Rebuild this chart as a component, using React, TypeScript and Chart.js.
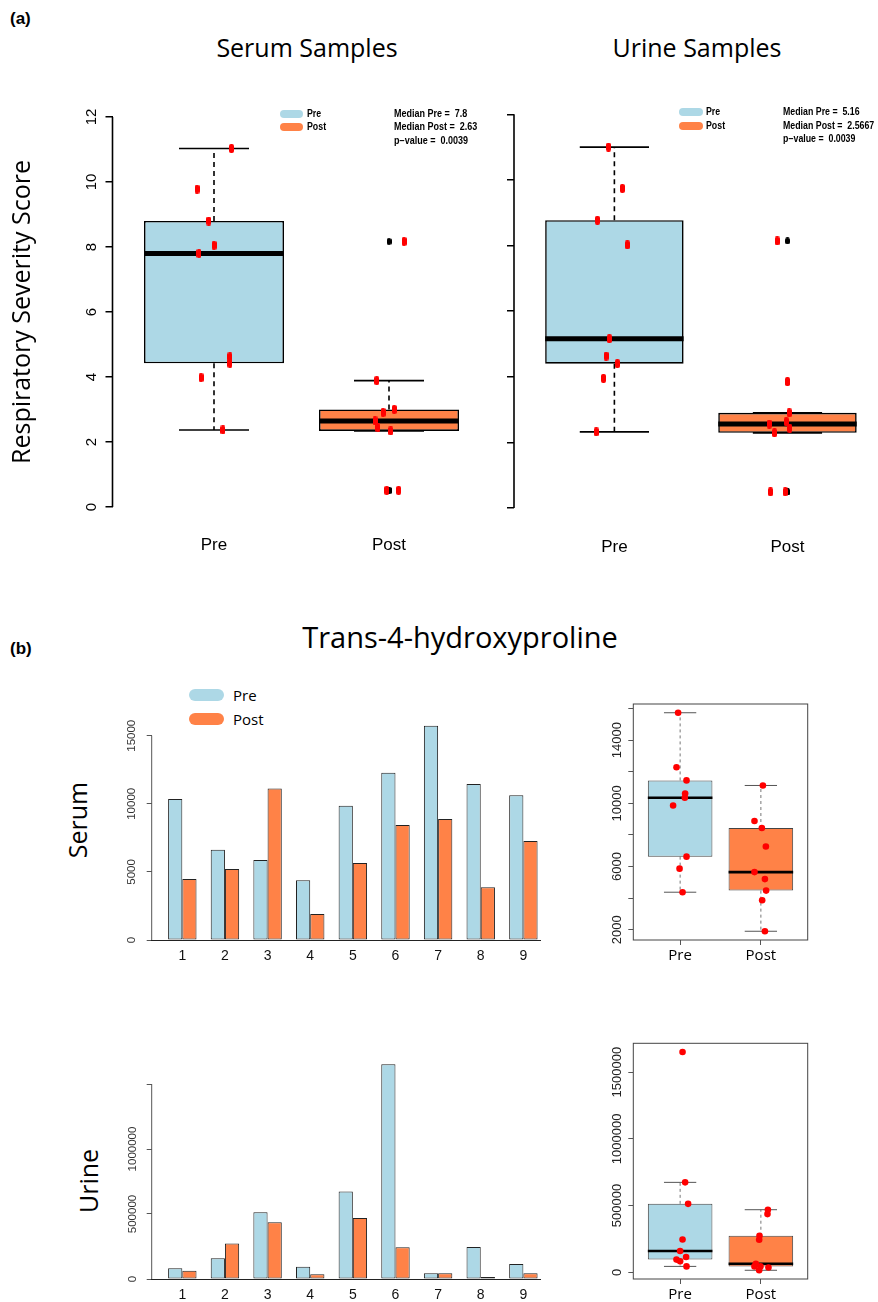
import React, { useEffect, useRef } from "react";
import { Chart, registerables } from "chart.js";
Chart.register(...registerables);

const BLUE = "#ADD8E6";
const ORANGE = "#FF8247";
const RED = "#FF0000";

const GROUP_LABELS = ["Pre", "Post"];
const GROUP_POS = [1, 2];

// ---------- (a) Respiratory severity score ----------
const A_Y_TICKS = [0, 2, 4, 6, 8, 10, 12];

const A_SERUM_PRE = [11.03, 9.78, 8.8, 8.05, 7.8, 4.62, 4.42, 3.98, 2.37];
const A_SERUM_PRE_JIT = [0.1, -0.097, -0.03, 0, -0.086, 0.091, 0.091, -0.074, 0.051];
const A_SERUM_POST = [8.17, 0.51, 0.51, 3.89, 2.91, 3.0, 2.65, 2.44, 2.34];
const A_SERUM_POST_JIT = [0.086, -0.013, 0.055, -0.07, -0.034, 0.03, -0.08, -0.063, 0.01];

const A_URINE_PRE = [11.0, 9.74, 8.77, 8.02, 5.16, 4.63, 4.4, 3.95, 2.32];
const A_URINE_PRE_JIT = [-0.034, 0.046, -0.098, 0.075, -0.029, -0.048, 0.017, -0.063, -0.105];
const A_URINE_POST = [8.14, 3.85, 0.49, 0.49, 2.9, 2.63, 2.56, 2.43, 2.29];
const A_URINE_POST_JIT = [-0.059, 0, -0.098, -0.013, 0.01, -0.007, -0.105, 0.013, -0.075];

const A_SERUM_STATS = ["Median Pre =  7.8", "Median Post =  2.63", "p\u2212value =  0.0039"];
const A_URINE_STATS = ["Median Pre =  5.16", "Median Post =  2.5667", "p\u2212value =  0.0039"];

// ---------- (b) Trans-4-hydroxyproline ----------
const PATIENTS = [1, 2, 3, 4, 5, 6, 7, 8, 9];
const SERUM_PRE = [10350, 6630, 5870, 4380, 9860, 12280, 15730, 11450, 10620];
const SERUM_POST = [4480, 5210, 11130, 1910, 5650, 8440, 8880, 3870, 7270];
const URINE_PRE = [82000, 159000, 513000, 95000, 674000, 1651000, 44000, 246000, 115000];
const URINE_POST = [64000, 274000, 436000, 36000, 469000, 244000, 44000, 15000, 44000];

const SERUM_PRE_JIT = [0.058, 0.079, -0.007, 0.03, -0.087, -0.045, -0.025, 0.079, 0.062];
const SERUM_POST_JIT = [0.065, 0.05, 0.025, 0.05, -0.079, 0.012, -0.079, 0.016, 0.062];
const URINE_PRE_JIT = [0, 0, 0.099, -0.045, 0.062, 0.03, 0.079, 0.03, 0.074];
const URINE_POST_JIT = [-0.062, -0.017, 0.082, 0.094, 0.087, -0.021, -0.079, -0.021, -0.005];

const SERUM_BAR_TICKS = [0, 5000, 10000, 15000];
const SERUM_BAR_LABELS = [0, 5000, 10000, 15000];
const URINE_BAR_TICKS = [0, 500000, 1000000, 1500000];
const URINE_BAR_LABELS = [0, 500000, 1000000];
const SERUM_BOX_TICKS = [2000, 4000, 6000, 8000, 10000, 12000, 14000, 16000];
const SERUM_BOX_LABELS = [2000, 6000, 10000, 14000];
const URINE_BOX_TICKS = [0, 500000, 1000000, 1500000];
const URINE_BOX_LABELS = [0, 500000, 1000000, 1500000];

type Stats = { low: number; q1: number; med: number; q3: number; high: number; out: number[] };

function boxStats(values: number[]): Stats {
  const s = [...values].sort((a, b) => a - b);
  const n = s.length;
  const n4 = Math.floor((n + 3) / 2) / 2;
  const d = [1, n4, (n + 1) / 2, n + 1 - n4, n].map(
    (p) => 0.5 * (s[Math.floor(p) - 1] + s[Math.ceil(p) - 1])
  );
  const iqr = d[3] - d[1];
  const lo = d[1] - 1.5 * iqr;
  const hi = d[3] + 1.5 * iqr;
  const inside = s.filter((v) => v >= lo && v <= hi);
  return {
    low: inside[0],
    q1: d[1],
    med: d[2],
    q3: d[3],
    high: inside[inside.length - 1],
    out: s.filter((v) => v < lo || v > hi),
  };
}

function markImage(w: number, h: number, r: number, color: string) {
  const c = document.createElement("canvas");
  c.width = w;
  c.height = h;
  const g = c.getContext("2d")!;
  g.fillStyle = color;
  g.beginPath();
  (g as any).roundRect(0, 0, w, h, r);
  g.fill();
  return c;
}

function line(ctx: CanvasRenderingContext2D, x1: number, y1: number, x2: number, y2: number) {
  ctx.beginPath();
  ctx.moveTo(x1, y1);
  ctx.lineTo(x2, y2);
  ctx.stroke();
}

function makeBoxConfig(o: any) {
  const stats: Stats[] = o.groups.map((g: number[]) => boxStats(g));
  const all = o.groups.flat();
  let yMin = o.yMin;
  let yMax = o.yMax;
  if (yMin === undefined) {
    const lo = Math.min(...all);
    const hi = Math.max(...all);
    yMin = lo - 0.04 * (hi - lo);
    yMax = hi + 0.04 * (hi - lo);
  }
  const pts = o.groups.flatMap((g: number[], gi: number) =>
    g.map((v, i) => ({ x: GROUP_POS[gi] + o.jitter[gi][i], y: v }))
  );
  const outs = stats.flatMap((s, gi) => s.out.map((v) => ({ x: GROUP_POS[gi], y: v })));
  const datasets: any[] = [
    {
      type: "scatter",
      data: pts,
      pointStyle: o.pointStyle,
      pointRadius: o.pointRadius,
      backgroundColor: RED,
      borderWidth: 0,
    },
  ];
  if (o.outlierStyle) {
    datasets.push({
      type: "scatter",
      data: outs,
      pointStyle: o.outlierStyle,
      pointRadius: 3,
      backgroundColor: "#000",
      borderWidth: 0,
    });
  }
  datasets.push({
    type: "bar",
    data: stats.map((s, i) => ({ x: GROUP_POS[i], y: [s.q1, s.q3] })),
    backgroundColor: o.fills,
    borderColor: o.boxBorder,
    borderWidth: o.boxBorderWidth,
    borderSkipped: false,
    categoryPercentage: 1,
    barPercentage: 0.8,
  });
  const boxIndex = datasets.length - 1;

  const plugin = {
    id: "rbox",
    beforeDatasetsDraw(chart: any) {
      const { ctx } = chart;
      const xs = chart.scales.x;
      const ys = chart.scales.y;
      ctx.save();
      stats.forEach((s, i) => {
        const g = GROUP_POS[i];
        const px = xs.getPixelForValue(g);
        ctx.strokeStyle = o.whiskerColor;
        ctx.lineWidth = o.whiskerWidth;
        ctx.setLineDash(o.whiskerDash);
        line(ctx, px, ys.getPixelForValue(s.q3), px, ys.getPixelForValue(s.high));
        line(ctx, px, ys.getPixelForValue(s.q1), px, ys.getPixelForValue(s.low));
        ctx.setLineDash([]);
        ctx.strokeStyle = o.capColor;
        ctx.lineWidth = o.capWidth;
        const a = xs.getPixelForValue(g - 0.2);
        const b = xs.getPixelForValue(g + 0.2);
        line(ctx, a, ys.getPixelForValue(s.high), b, ys.getPixelForValue(s.high));
        line(ctx, a, ys.getPixelForValue(s.low), b, ys.getPixelForValue(s.low));
      });
      ctx.restore();
    },
    afterDatasetDraw(chart: any, args: any) {
      if (args.index !== boxIndex) return;
      const { ctx } = chart;
      const xs = chart.scales.x;
      const ys = chart.scales.y;
      ctx.save();
      ctx.strokeStyle = "#000";
      ctx.lineWidth = o.medianWidth;
      stats.forEach((s, i) => {
        const g = GROUP_POS[i];
        const py = ys.getPixelForValue(s.med);
        line(ctx, xs.getPixelForValue(g - 0.4), py, xs.getPixelForValue(g + 0.4), py);
      });
      ctx.restore();
    },
    afterDraw(chart: any) {
      const { ctx, chartArea } = chart;
      const ys = chart.scales.y;
      ctx.save();
      if (o.frame) {
        ctx.strokeStyle = o.frameColor;
        ctx.lineWidth = 1;
        ctx.strokeRect(chartArea.left, chartArea.top, chartArea.right - chartArea.left, chartArea.bottom - chartArea.top);
      } else {
        ctx.strokeStyle = o.axisColor;
        ctx.lineWidth = o.axisWidth;
        line(
          ctx,
          chartArea.left,
          ys.getPixelForValue(o.yTicks[0]),
          chartArea.left,
          ys.getPixelForValue(o.yTicks[o.yTicks.length - 1])
        );
      }
      ctx.restore();
    },
  };

  return {
    type: "bar",
    data: { datasets },
    options: {
      responsive: false,
      animation: false,
      events: [],
      layout: { padding: o.padding },
      plugins: { legend: { display: false }, tooltip: { enabled: false } },
      scales: {
        x: {
          type: "linear",
          min: o.xMin,
          max: o.xMax,
          offset: false,
          afterBuildTicks: (s: any) => {
            s.ticks = GROUP_POS.map((v) => ({ value: v }));
          },
          afterFit: (s: any) => {
            s.height = o.xAxisH;
          },
          ticks: {
            callback: (_v: any, i: number) => GROUP_LABELS[i],
            font: o.xFont,
            color: "#000",
            padding: o.xPad,
            autoSkip: false,
            maxRotation: 0,
            minRotation: 0,
          },
          grid: {
            offset: false,
            drawOnChartArea: false,
            display: o.xTickLen > 0,
            drawTicks: o.xTickLen > 0,
            tickLength: o.xTickLen,
            color: o.tickColor,
            lineWidth: o.tickWidth,
          },
          border: { display: false },
        },
        y: {
          type: "linear",
          min: yMin,
          max: yMax,
          afterBuildTicks: (s: any) => {
            s.ticks = o.yTicks.map((v: number) => ({ value: v }));
          },
          afterFit: (s: any) => {
            s.width = o.yAxisW;
          },
          ticks: {
            display: o.yLabels.length > 0,
            callback: (v: number) => (o.yLabels.includes(v) ? String(v) : ""),
            font: o.yFont,
            color: o.yTickColor || "#000",
            padding: o.yPad,
            autoSkip: false,
            minRotation: 90,
            maxRotation: 90,
            crossAlign: "center",
          },
          grid: {
            drawOnChartArea: false,
            drawTicks: true,
            tickLength: o.yTickLen,
            color: o.tickColor,
            lineWidth: o.tickWidth,
          },
          border: { display: false },
          title: o.yTitle || { display: false },
        },
      },
    },
    plugins: [plugin],
  };
}

function makeBarConfig(o: any) {
  const plugin = {
    id: "raxis",
    afterDraw(chart: any) {
      const { ctx, chartArea } = chart;
      const ys = chart.scales.y;
      ctx.save();
      ctx.strokeStyle = "#555";
      ctx.lineWidth = 1;
      line(
        ctx,
        chartArea.left,
        ys.getPixelForValue(o.yTicks[0]),
        chartArea.left,
        ys.getPixelForValue(o.yTicks[o.yTicks.length - 1])
      );
      ctx.restore();
    },
  };
  const common = {
    borderColor: "#222",
    borderWidth: 1,
    borderSkipped: false,
    categoryPercentage: 2 / 3,
    barPercentage: 1,
  };
  return {
    type: "bar",
    data: {
      datasets: [
        { label: "Pre", data: PATIENTS.map((p, i) => ({ x: p, y: o.pre[i] })), backgroundColor: BLUE, ...common },
        { label: "Post", data: PATIENTS.map((p, i) => ({ x: p, y: o.post[i] })), backgroundColor: ORANGE, ...common },
      ],
    },
    options: {
      responsive: false,
      animation: false,
      events: [],
      layout: { padding: o.padding },
      plugins: { legend: { display: false }, tooltip: { enabled: false } },
      scales: {
        x: {
          type: "linear",
          min: o.xMin,
          max: o.xMax,
          offset: false,
          afterBuildTicks: (s: any) => {
            s.ticks = PATIENTS.map((v) => ({ value: v }));
          },
          afterFit: (s: any) => {
            s.height = o.xAxisH;
          },
          ticks: {
            callback: (v: number) => String(v),
            font: { family: "'Liberation Sans', Arial, sans-serif", size: 14 },
            color: "#111",
            padding: o.xPad,
            autoSkip: false,
            maxRotation: 0,
            minRotation: 0,
          },
          grid: { offset: false, display: false, drawTicks: false },
          border: { display: true, color: "#222", width: 1 },
        },
        y: {
          type: "linear",
          min: 0,
          max: o.yMax,
          afterBuildTicks: (s: any) => {
            s.ticks = o.yTicks.map((v: number) => ({ value: v }));
          },
          afterFit: (s: any) => {
            s.width = o.yAxisW;
          },
          ticks: {
            callback: (v: number) => (o.yLabels.includes(v) ? String(v) : ""),
            font: { family: "'Liberation Sans', Arial, sans-serif", size: 11.5 },
            color: "#333",
            padding: o.yPad,
            autoSkip: false,
            minRotation: 90,
            maxRotation: 90,
            crossAlign: "center",
          },
          grid: { drawOnChartArea: false, drawTicks: true, tickLength: 5, color: "#555", lineWidth: 1 },
          border: { display: false },
        },
      },
    },
    plugins: [plugin],
  };
}

function ChartCanvas(props: { left: number; top: number; width: number; height: number; make: () => any }) {
  const ref = useRef<HTMLCanvasElement>(null);
  useEffect(() => {
    const chart = new Chart(ref.current as HTMLCanvasElement, props.make());
    return () => chart.destroy();
  }, []);
  return (
    <canvas
      ref={ref}
      width={props.width}
      height={props.height}
      style={{ position: "absolute", left: props.left, top: props.top, width: props.width, height: props.height }}
    />
  );
}

const SANS = "'Open Sans', 'Noto Sans', sans-serif";
const ARIAL = "'Liberation Sans', Arial, sans-serif";

function Text(props: {
  x: number;
  y: number;
  text: string;
  font: string;
  align?: "left" | "center";
  rotate?: boolean;
  squeeze?: number;
  color?: string;
}) {
  const style: React.CSSProperties = {
    position: "absolute",
    left: props.x,
    top: props.y,
    font: props.font,
    color: props.color || "#000",
    whiteSpace: "pre",
    lineHeight: 1,
    transformOrigin: props.squeeze ? "left center" : undefined,
    transform: props.rotate
      ? "translate(-50%, -50%) rotate(-90deg)"
      : props.align === "center"
      ? "translate(-50%, -50%)"
      : props.squeeze
      ? `translate(0, -50%) scaleX(${props.squeeze})`
      : "translate(0, -50%)",
  };
  return <div style={style}>{props.text}</div>;
}

function Pill(props: { x: number; y: number; w: number; h: number; color: string }) {
  return (
    <div
      style={{
        position: "absolute",
        left: props.x,
        top: props.y - props.h / 2,
        width: props.w,
        height: props.h,
        borderRadius: props.h / 2,
        background: props.color,
      }}
    />
  );
}

export default function App() {
  const aPoint = () => markImage(5, 9, 2, RED);
  const aOut = () => markImage(5, 7, 2.5, "#000");

  const aCommon = {
    fills: [BLUE, ORANGE],
    boxBorder: "#000",
    boxBorderWidth: 1.6,
    whiskerColor: "#000",
    whiskerWidth: 1.6,
    whiskerDash: [5, 4],
    capColor: "#000",
    capWidth: 1.6,
    medianWidth: 5,
    pointRadius: 4,
    yMin: 0,
    yMax: 12,
    yTicks: A_Y_TICKS,
    yTickLen: 7,
    tickColor: "#000",
    tickWidth: 1.5,
    axisColor: "#000",
    axisWidth: 1.6,
    yFont: { family: ARIAL, size: 15 },
    xFont: { family: ARIAL, size: 17 },
    xTickLen: 0,
    frame: false,
  };

  const bCommon = {
    fills: [BLUE, ORANGE],
    boxBorder: "#444",
    boxBorderWidth: 1,
    whiskerColor: "#777",
    whiskerWidth: 1,
    whiskerDash: [3, 3],
    capColor: "#555",
    capWidth: 1,
    medianWidth: 2.6,
    pointStyle: "circle",
    pointRadius: 3.3,
    xMin: 0.42,
    xMax: 2.58,
    yTickLen: 5,
    tickColor: "#555",
    tickWidth: 1,
    yFont: { family: ARIAL, size: 13 },
    yTickColor: "#222",
    xFont: { family: SANS, size: 15 },
    xTickLen: 5,
    xPad: 2,
    yAxisW: 43.3,
    frame: true,
    frameColor: "#444",
  };

  const small = `bold 10px ${ARIAL}`;

  return (
    <div style={{ position: "fixed", left: 0, top: 0, width: 878, height: 1302, overflow: "hidden", background: "#fff" }}>
      {/* ---------------- (a) ---------------- */}
      <Text x={10} y={18} text="(a)" font={`bold 17px ${ARIAL}`} />
      <Text x={307} y={47} text="Serum Samples" font={`25px ${SANS}`} align="center" />
      <Text x={697} y={47} text="Urine Samples" font={`25px ${SANS}`} align="center" />

      <ChartCanvas
        left={0}
        top={100}
        width={500}
        height={460}
        make={() =>
          makeBoxConfig({
            ...aCommon,
            groups: [A_SERUM_PRE, A_SERUM_POST],
            jitter: [A_SERUM_PRE_JIT, A_SERUM_POST_JIT],
            pointStyle: aPoint(),
            outlierStyle: aOut(),
            xMin: 0.42,
            xMax: 2.58,
            yLabels: A_Y_TICKS,
            yAxisW: 112.5,
            yPad: 5,
            xAxisH: 53,
            xPad: 28,
            padding: { top: 17, right: 9.5, left: 0, bottom: 0 },
            yTitle: {
              display: true,
              text: "Respiratory Severity Score",
              font: { family: SANS, size: 25 },
              color: "#000",
              padding: { top: 8, bottom: 0 },
            },
          })
        }
      />
      <ChartCanvas
        left={500}
        top={100}
        width={378}
        height={460}
        make={() =>
          makeBoxConfig({
            ...aCommon,
            groups: [A_URINE_PRE, A_URINE_POST],
            jitter: [A_URINE_PRE_JIT, A_URINE_POST_JIT],
            pointStyle: aPoint(),
            outlierStyle: aOut(),
            xMin: 0.42,
            xMax: 2.5,
            yLabels: [],
            yAxisW: 14,
            yPad: 5,
            xAxisH: 52,
            xPad: 29,
            padding: { top: 14.3, right: 2, left: 0, bottom: 0 },
          })
        }
      />

      {/* legends + stats (a) */}
      <Pill x={280} y={114} w={23} h={8} color={BLUE} />
      <Pill x={280} y={127} w={23} h={8} color={ORANGE} />
      <Text x={307} y={114} text="Pre" font={small} squeeze={0.88} />
      <Text x={307} y={127} text="Post" font={small} squeeze={0.88} />
      {A_SERUM_STATS.map((t, i) => (
        <Text key={"s" + i} x={394} y={114 + i * 13.4} text={t} font={small} squeeze={0.9} />
      ))}
      <Pill x={679} y={112} w={24} h={8} color={BLUE} />
      <Pill x={679} y={126} w={24} h={8} color={ORANGE} />
      <Text x={706} y={112} text="Pre" font={small} squeeze={0.88} />
      <Text x={706} y={126} text="Post" font={small} squeeze={0.88} />
      {A_URINE_STATS.map((t, i) => (
        <Text key={"u" + i} x={783} y={112.3 + i * 13.5} text={t} font={small} squeeze={0.88} />
      ))}

      {/* ---------------- (b) ---------------- */}
      <Text x={10} y={648} text="(b)" font={`bold 17px ${ARIAL}`} />
      <Text x={460} y={636} text="Trans-4-hydroxyproline" font={`29px ${SANS}`} align="center" />
      <Text x={77} y={820} text="Serum" font={`25px ${SANS}`} rotate />
      <Text x={88} y={1181} text="Urine" font={`25px ${SANS}`} rotate />

      <Pill x={189} y={695} w={35} h={12} color={BLUE} />
      <Pill x={189} y={718.5} w={35} h={12} color={ORANGE} />
      <Text x={233} y={695} text="Pre" font={`15px ${SANS}`} />
      <Text x={233} y={718.5} text="Post" font={`15px ${SANS}`} />

      <ChartCanvas
        left={100}
        top={710}
        width={450}
        height={258}
        make={() =>
          makeBarConfig({
            pre: SERUM_PRE,
            post: SERUM_POST,
            xMin: 0.282,
            xMax: 9.39,
            yMax: 16000,
            yTicks: SERUM_BAR_TICKS,
            yLabels: SERUM_BAR_LABELS,
            yAxisW: 51.7,
            yPad: -1,
            xAxisH: 28,
            xPad: 7.6,
            padding: { top: 12.1, right: 10, left: 0, bottom: 0 },
          })
        }
      />
      <ChartCanvas
        left={590}
        top={690}
        width={230}
        height={280}
        make={() =>
          makeBoxConfig({
            ...bCommon,
            groups: [SERUM_PRE, SERUM_POST],
            jitter: [SERUM_PRE_JIT, SERUM_POST_JIT],
            yTicks: SERUM_BOX_TICKS,
            yLabels: SERUM_BOX_LABELS,
            yPad: -7,
            xAxisH: 30,
            padding: { top: 14, right: 12.3, left: 0, bottom: 0 },
          })
        }
      />
      <ChartCanvas
        left={100}
        top={1045}
        width={450}
        height={262}
        make={() =>
          makeBarConfig({
            pre: URINE_PRE,
            post: URINE_POST,
            xMin: 0.282,
            xMax: 9.39,
            yMax: 1700000,
            yTicks: URINE_BAR_TICKS,
            yLabels: URINE_BAR_LABELS,
            yAxisW: 51.7,
            yPad: -9,
            xAxisH: 28,
            xPad: 7.6,
            padding: { top: 13, right: 10, left: 0, bottom: 0 },
          })
        }
      />
      <ChartCanvas
        left={590}
        top={1030}
        width={230}
        height={272}
        make={() =>
          makeBoxConfig({
            ...bCommon,
            groups: [URINE_PRE, URINE_POST],
            jitter: [URINE_PRE_JIT, URINE_POST_JIT],
            yTicks: URINE_BOX_TICKS,
            yLabels: URINE_BOX_LABELS,
            yPad: -14,
            xAxisH: 23,
            padding: { top: 13.3, right: 12.3, left: 0, bottom: 0 },
          })
        }
      />
    </div>
  );
}
